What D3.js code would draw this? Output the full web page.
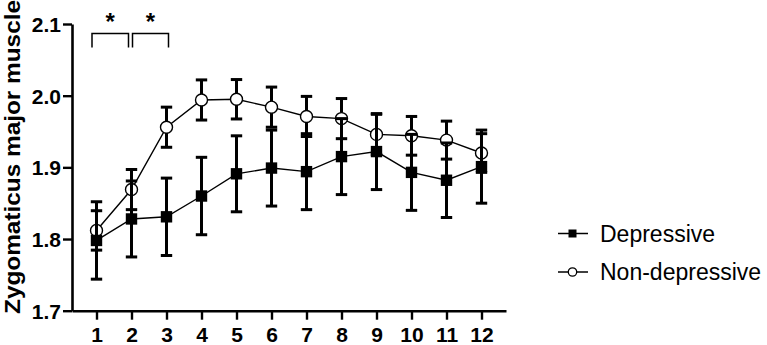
<!DOCTYPE html>
<html>
<head>
<meta charset="utf-8">
<script src="https://cdn.jsdelivr.net/npm/d3@7"></script>
<style>
  body { margin: 0; background: #fff; }
  text { font-family: "Liberation Sans", Arial, sans-serif; }
</style>
</head>
<body>
<svg id="drawing_region"></svg>
<script>
// time points (x axis)
const weeks = [1, 2, 3, 4, 5, 6, 7, 8, 9, 10, 11, 12];

// Depressive group: mean and error
const depMean = [1.798, 1.828, 1.831, 1.860, 1.891, 1.899, 1.894, 1.915, 1.922, 1.893, 1.882, 1.901];
const depErr  = [0.054, 0.053, 0.054, 0.054, 0.053, 0.053, 0.053, 0.053, 0.053, 0.053, 0.052, 0.051];

// Non-depressive group: mean and error
const nonMean = [1.812, 1.869, 1.956, 1.994, 1.995, 1.984, 1.971, 1.968, 1.946, 1.944, 1.938, 1.920];
const nonErr  = [0.0275, 0.028, 0.028, 0.028, 0.0275, 0.028, 0.028, 0.028, 0.028, 0.027, 0.0265, 0.027];

const yTicks = [1.7, 1.8, 1.9, 2.0, 2.1];
const seriesNames = ["Depressive", "Non-depressive"];
const sigPairs = [[1, 2], [2, 3]];
const yLabel = "Zygomaticus major muscle";

const config = {
    width: 767,
    height: 345
};

const svg = d3.select('#drawing_region')
    .attr('width', config.width)
    .attr('height', config.height);

const xscale = d3.scaleLinear()
    .domain([0.3, 12.7])
    .range([72, 506]);

const yscale = d3.scaleLinear()
    .domain([1.7, 2.1])
    .range([310.7, 24]);

// axes
const xaxis = d3.axisBottom(xscale)
    .tickValues(weeks)
    .tickFormat(d3.format('d'))
    .tickSize(9)
    .tickSizeOuter(0)
    .tickPadding(7);

const yaxis = d3.axisLeft(yscale)
    .tickValues(yTicks)
    .tickFormat(d3.format('.1f'))
    .tickSize(9)
    .tickSizeOuter(0)
    .tickPadding(2);

const xg = svg.append('g')
    .attr('transform', `translate(0, ${yscale(1.7)})`)
    .call(xaxis);

const yg = svg.append('g')
    .attr('transform', `translate(${xscale(0.3)}, 0)`)
    .call(yaxis);

[xg, yg].forEach(g => {
    g.select('.domain').attr('stroke', '#000').attr('stroke-width', 2.6);
    g.selectAll('.tick line').attr('stroke', '#000').attr('stroke-width', 2.4);
    g.selectAll('.tick text')
        .attr('fill', '#000')
        .attr('font-size', '21px')
        .attr('font-weight', 'bold')
        .attr('font-family', '"Liberation Sans", Arial, sans-serif');
});
xg.selectAll('.tick text').attr('dy', '0.71em');
yg.selectAll('.tick text').attr('dy', '0.36em');

// y axis label
svg.append('text')
    .attr('transform', `translate(19.5, 157) rotate(-90)`)
    .attr('text-anchor', 'middle')
    .attr('font-size', '21.5px')
    .attr('font-weight', 'bold')
    .attr('textLength', 314)
    .attr('lengthAdjust', 'spacingAndGlyphs')
    .text(yLabel);

// helper to draw one series
function drawSeries(means, errs, marker) {
    const data = weeks.map((w, i) => ({ x: w, y: means[i], e: errs[i] }));
    const g = svg.append('g');

    g.append('path')
        .datum(data)
        .attr('fill', 'none')
        .attr('stroke', '#000')
        .attr('stroke-width', 1.4)
        .attr('d', d3.line().x(d => xscale(d.x)).y(d => yscale(d.y)));

    const eb = g.selectAll('.eb')
        .data(data)
        .enter()
        .append('g');
    eb.append('line')
        .attr('x1', d => xscale(d.x)).attr('x2', d => xscale(d.x))
        .attr('y1', d => yscale(d.y + d.e)).attr('y2', d => yscale(d.y - d.e))
        .attr('stroke', '#000').attr('stroke-width', 3);
    [1, -1].forEach(s => {
        eb.append('line')
            .attr('x1', d => xscale(d.x) - 5.7).attr('x2', d => xscale(d.x) + 5.7)
            .attr('y1', d => yscale(d.y + s * d.e)).attr('y2', d => yscale(d.y + s * d.e))
            .attr('stroke', '#000').attr('stroke-width', 3);
    });

    if (marker === 'square') {
        g.selectAll('rect')
            .data(data)
            .enter()
            .append('rect')
            .attr('x', d => xscale(d.x) - 5.7)
            .attr('y', d => yscale(d.y) - 5.7)
            .attr('width', 11.4)
            .attr('height', 11.4)
            .attr('fill', '#000');
    } else {
        g.selectAll('circle')
            .data(data)
            .enter()
            .append('circle')
            .attr('cx', d => xscale(d.x))
            .attr('cy', d => yscale(d.y))
            .attr('r', 6)
            .attr('fill', '#fff')
            .attr('stroke', '#000')
            .attr('stroke-width', 1.4);
    }
}

drawSeries(nonMean, nonErr, 'circle');
drawSeries(depMean, depErr, 'square');

// significance brackets
sigPairs.forEach((p, i) => {
    const x1 = xscale(p[0]) + (i === 0 ? -4.5 : 1);
    const x2 = xscale(p[1]) + (i === 0 ? -3 : 2);
    svg.append('path')
        .attr('d', `M${x1},47.5 V33.5 H${x2} V47.5`)
        .attr('fill', 'none')
        .attr('stroke', '#000')
        .attr('stroke-width', 1.5);
    svg.append('text')
        .attr('x', (x1 + x2) / 2)
        .attr('y', 29.5)
        .attr('text-anchor', 'middle')
        .attr('font-size', '24px')
        .attr('font-weight', 'bold')
        .text('*');
});

// legend
const legend = svg.append('g').attr('transform', 'translate(558, 0)');
const legendY = [233.5, 272];
seriesNames.forEach((name, i) => {
    const y = legendY[i];
    legend.append('line')
        .attr('x1', 0).attr('x2', 30)
        .attr('y1', y).attr('y2', y)
        .attr('stroke', '#000').attr('stroke-width', 1.5);
    if (i === 0) {
        legend.append('rect')
            .attr('x', 14.5 - 4).attr('y', y - 4)
            .attr('width', 8).attr('height', 8)
            .attr('fill', '#000');
    } else {
        legend.append('circle')
            .attr('cx', 14.5).attr('cy', y)
            .attr('r', 4.2)
            .attr('fill', '#fff')
            .attr('stroke', '#000').attr('stroke-width', 1.3);
    }
    legend.append('text')
        .attr('x', 42)
        .attr('y', y + 8)
        .attr('font-size', '23px')
        .attr('fill', '#000')
        .text(name);
});
</script>
</body>
</html>
